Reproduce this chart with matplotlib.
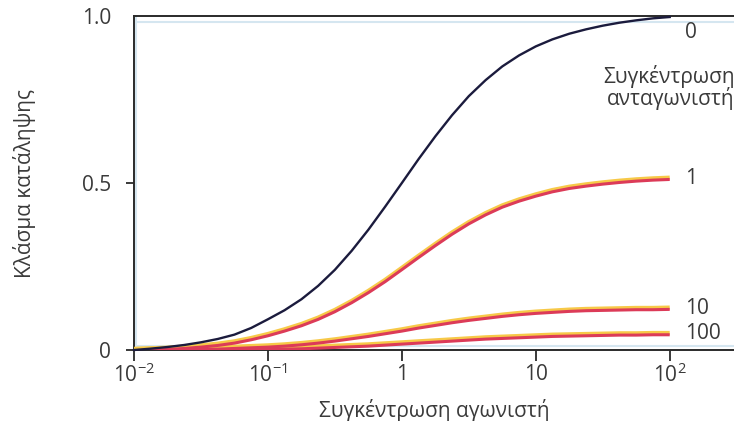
import matplotlib.pyplot as plt
from matplotlib.transforms import offset_copy

# agonist concentration, 1/8 decade steps from 10^-2 to 10^2
conc = [0.01, 0.0133, 0.0178, 0.0237, 0.0316, 0.0422, 0.0562, 0.075,
        0.1, 0.133, 0.178, 0.237, 0.316, 0.422, 0.562, 0.75,
        1, 1.33, 1.78, 2.37, 3.16, 4.22, 5.62, 7.5,
        10, 13.3, 17.8, 23.7, 31.6, 42.2, 56.2, 75, 100]

# fraction of occupancy, antagonist concentration 0 / 1 / 10 / 100
occ_0 = [0.0, 0.004, 0.009, 0.015, 0.023, 0.033, 0.046, 0.066,
         0.092, 0.119, 0.152, 0.192, 0.240, 0.297, 0.360, 0.429,
         0.500, 0.571, 0.640, 0.703, 0.760, 0.808, 0.849, 0.882,
         0.909, 0.930, 0.947, 0.960, 0.971, 0.980, 0.987, 0.993, 0.997]
occ_1 = [0.0, 0.002, 0.004, 0.007, 0.011, 0.016, 0.023, 0.033,
         0.045, 0.059, 0.075, 0.094, 0.117, 0.144, 0.174, 0.207,
         0.243, 0.279, 0.315, 0.349, 0.380, 0.407, 0.430, 0.448,
         0.463, 0.476, 0.486, 0.493, 0.499, 0.504, 0.508, 0.511, 0.513]
occ_10 = [0.0, 0.001, 0.002, 0.003, 0.004, 0.005, 0.007, 0.009,
          0.011, 0.014, 0.018, 0.023, 0.029, 0.036, 0.043, 0.051,
          0.059, 0.068, 0.076, 0.084, 0.091, 0.097, 0.103, 0.108,
          0.112, 0.115, 0.118, 0.120, 0.121, 0.122, 0.123, 0.123, 0.124]
occ_100 = [0.0, 0.0005, 0.001, 0.001, 0.002, 0.002, 0.003, 0.003,
           0.004, 0.005, 0.006, 0.008, 0.010, 0.012, 0.014, 0.017,
           0.020, 0.023, 0.026, 0.029, 0.032, 0.035, 0.037, 0.039,
           0.041, 0.043, 0.044, 0.045, 0.046, 0.047, 0.047, 0.048, 0.048]

curve_labels = ["1", "10", "100"]
xtick_vals = [0.01, 0.1, 1, 10, 100]
xtick_labels = [r"10$^{\mathregular{-2}}$", r"10$^{\mathregular{-1}}$", "1", "10", r"10$^{\mathregular{2}}$"]

plt.rcParams['font.family'] = ['Open Sans', 'DejaVu Sans']
grey = "#3a3a3a"
fs = 15

fig = plt.figure(figsize=(7.34, 4.21), dpi=100)
ax = fig.add_axes([134 / 734, 71 / 421, 600 / 734, 334 / 421])

ax.set_xscale("log")
ax.set_xlim(0.01, 10 ** 2.48)
ax.set_ylim(0, 1.0)

# faint blue scan edge just inside the frame
ax.axhline(0.982, color="#d5e6f0", lw=1.5, zorder=1)
ax.axhline(0.012, color="#d5e6f0", lw=1.5, zorder=1)
ax.axvline(0.0104, color="#d5e6f0", lw=1.5, zorder=1)

up = offset_copy(ax.transData, fig=fig, x=0, y=1, units="dots")
down = offset_copy(ax.transData, fig=fig, x=0, y=-0.8, units="dots")

ax.plot(conc, occ_0, color="#1b1b3d", lw=1.7, zorder=4, clip_on=False)
for vals in [occ_1, occ_10, occ_100]:
    ax.plot(conc, vals, color="#f7c948", lw=3.0, zorder=3, transform=up, solid_capstyle="butt")
    ax.plot(conc, vals, color="#dc3b58", lw=2.2, zorder=3.5, transform=down, solid_capstyle="butt")

# curve labels
ax.text(130, 0.95, "0", fontsize=fs, color=grey, va="center", ha="left")
for lab, vals in zip(curve_labels, [occ_1, occ_10, occ_100]):
    ax.text(130, vals[-1], lab, fontsize=fs, color=grey, va="center", ha="left")

# antagonist legend text, cut by the right edge as in the source
fig.text(603 / 734, 1 - 77 / 421, "Συγκέντρωση", fontsize=fs, color=grey, ha="left", va="center")
fig.text(607 / 734, 1 - 99 / 421, "ανταγωνιστή", fontsize=fs, color=grey, ha="left", va="center")

ax.spines["right"].set_visible(False)
for side in ["left", "bottom", "top"]:
    ax.spines[side].set_color("#2a2a2a")
    ax.spines[side].set_linewidth(1.4)

ax.set_xticks(xtick_vals)
ax.set_xticklabels(xtick_labels)
ax.minorticks_off()
ax.set_yticks([0, 0.5, 1.0])
ax.set_yticklabels(["0", "0.5", "1.0"])
ax.tick_params(axis="x", direction="out", length=8, width=1.3, colors="#2a2a2a",
               labelcolor=grey, labelsize=fs, pad=2)
ax.tick_params(axis="y", direction="out", length=5.5, width=1.3, colors="#2a2a2a",
               labelcolor=grey, labelsize=fs, pad=11)
ax.yaxis.get_major_ticks()[2].tick1line.set_visible(False)

fig.text(25 / 734, 1 - 184 / 421, "Κλάσμα κατάληψης", rotation=90, fontsize=fs,
         color=grey, ha="center", va="center")
fig.text(434 / 734, 1 - 410 / 421, "Συγκέντρωση αγωνιστή", fontsize=fs,
         color=grey, ha="center", va="center")

fig.savefig("out.png", dpi=100, facecolor="white")
